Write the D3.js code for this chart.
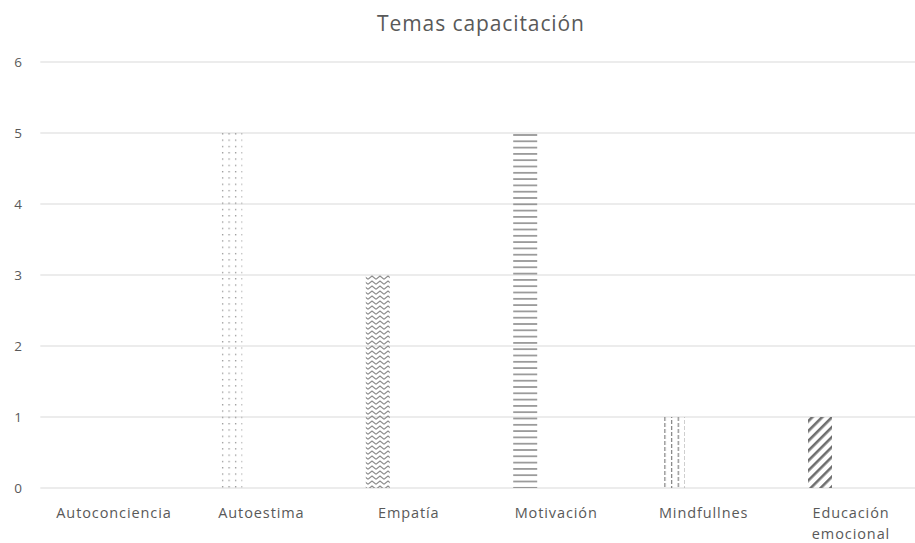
<!DOCTYPE html>
<html>
<head>
<meta charset="utf-8">
<script src="https://cdn.jsdelivr.net/npm/d3@7"></script>
<style>
  html, body { margin: 0; padding: 0; background: #fff; }
  svg { display: block; }
</style>
</head>
<body>
<svg id="chart" width="915" height="543"></svg>
<script>
const title = "Temas capacitación";
const categories = ["Autoconciencia", "Autoestima", "Empatía", "Motivación", "Mindfullnes", "Educación emocional"];
const categoryLines = [["Autoconciencia"], ["Autoestima"], ["Empatía"], ["Motivación"], ["Mindfullnes"], ["Educación", "emocional"]];
const values = [0, 5, 3, 5, 1, 1];
const patterns = ["none", "dots", "zigzag", "hlines", "vdash", "diag"];
const yTicks = [0, 1, 2, 3, 4, 5, 6];

const svg = d3.select("#chart");
const font = "'Open Sans', sans-serif";
const textColor = "#595959";
const gridColor = "#d9d9d9";

const x = d3.scaleBand().domain(categories).range([40.3, 924.7]).paddingInner(0).paddingOuter(0);
const y = d3.scaleLinear().domain([0, 6]).range([488, 62]);

// patterns
const defs = svg.append("defs");
// dots
let p = defs.append("pattern").attr("id", "dots").attr("patternUnits", "userSpaceOnUse")
  .attr("width", 6.5).attr("height", 6.3);
p.append("rect").attr("x", 1).attr("y", 1).attr("width", 1.2).attr("height", 1.2).attr("fill", "#808080");
// zigzag
p = defs.append("pattern").attr("id", "zigzag").attr("patternUnits", "userSpaceOnUse")
  .attr("width", 8).attr("height", 5);
p.append("path").attr("d", "M0,4.2 L4,1 L8,4.2").attr("fill", "none").attr("stroke", "#8c8c8c").attr("stroke-width", 1.1);
// horizontal lines
p = defs.append("pattern").attr("id", "hlines").attr("patternUnits", "userSpaceOnUse")
  .attr("width", 10).attr("height", 6.3);
p.append("rect").attr("x", 0).attr("y", 2).attr("width", 10).attr("height", 1.4).attr("fill", "#7f7f7f");
// vertical dashes
p = defs.append("pattern").attr("id", "vdash").attr("patternUnits", "userSpaceOnUse")
  .attr("width", 13.4).attr("height", 12);
p.append("rect").attr("x", 1).attr("y", 0).attr("width", 1.2).attr("height", 4).attr("fill", "#808080");
p.append("rect").attr("x", 1).attr("y", 6).attr("width", 1.2).attr("height", 4).attr("fill", "#808080");
p.append("rect").attr("x", 7.7).attr("y", 3).attr("width", 1.2).attr("height", 4).attr("fill", "#808080");
p.append("rect").attr("x", 7.7).attr("y", 9).attr("width", 1.2).attr("height", 4).attr("fill", "#808080");
p.append("rect").attr("x", 7.7).attr("y", -3).attr("width", 1.2).attr("height", 4).attr("fill", "#808080");
// diagonal stripes
p = defs.append("pattern").attr("id", "diag").attr("patternUnits", "userSpaceOnUse")
  .attr("width", 7).attr("height", 7).attr("patternTransform", "rotate(45)");
p.append("rect").attr("x", 0).attr("y", 0).attr("width", 2.6).attr("height", 7).attr("fill", "#6f6f6f");

// gridlines
svg.append("g").selectAll("line").data(yTicks).join("line")
  .attr("x1", x.range()[0]).attr("x2", x.range()[1])
  .attr("y1", d => y(d)).attr("y2", d => y(d))
  .attr("stroke", gridColor).attr("stroke-width", 1);

// y tick labels
svg.append("g").selectAll("text").data(yTicks).join("text")
  .attr("x", 18).attr("y", d => y(d)).attr("dy", "0.35em")
  .attr("text-anchor", "middle")
  .attr("font-family", font).attr("font-size", 13.5).attr("fill", textColor)
  .text(d => d);

// bars
const barW = 24, barOff = -43;
svg.append("g").selectAll("rect").data(categories).join("rect")
  .attr("x", d => x(d) + x.bandwidth() / 2 + barOff)
  .attr("y", (d, i) => y(values[i]))
  .attr("width", barW)
  .attr("height", (d, i) => y(0) - y(values[i]))
  .attr("fill", (d, i) => patterns[i] === "none" ? "none" : `url(#${patterns[i]})`);

// x labels
const xl = svg.append("g").selectAll("text").data(categories).join("text")
  .attr("x", d => x(d) + x.bandwidth() / 2)
  .attr("y", 518)
  .attr("text-anchor", "middle")
  .attr("font-family", font).attr("font-size", 14.5).attr("letter-spacing", 0.9).attr("fill", textColor);
xl.selectAll("tspan").data((d, i) => categoryLines[i]).join("tspan")
  .attr("x", function() { return d3.select(this.parentNode).attr("x"); })
  .attr("dy", (d, i) => i === 0 ? 0 : 21)
  .text(d => d);

// title
svg.append("text").attr("x", 481).attr("y", 31)
  .attr("text-anchor", "middle")
  .attr("font-family", font).attr("font-size", 21).attr("letter-spacing", 0.9).attr("fill", textColor)
  .text(title);
</script>
</body>
</html>
